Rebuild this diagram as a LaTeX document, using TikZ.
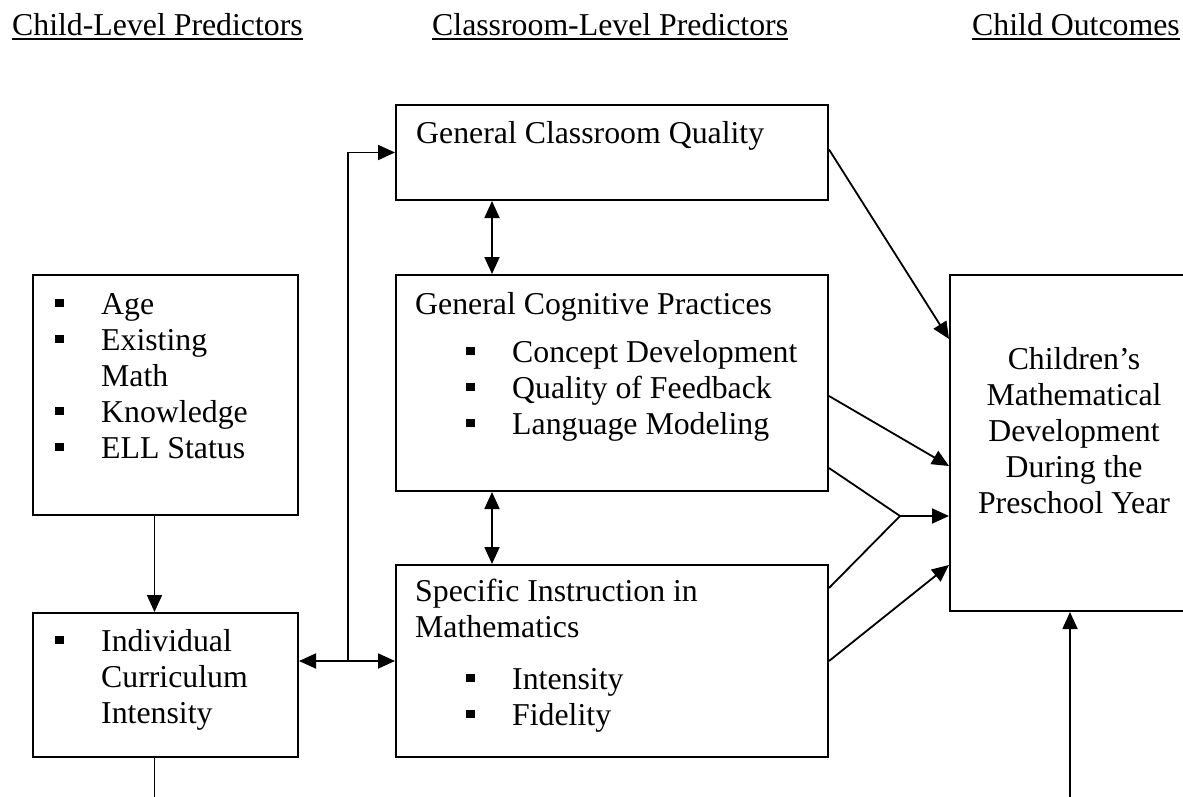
\documentclass[tikz,border=0pt]{standalone}
\usepackage{fontspec}
\setmainfont{Liberation Serif}
\usetikzlibrary{positioning,calc,arrows.meta}
\tikzstyle{box} = [draw, rectangle, line width=2pt, inner sep=0pt]
\tikzstyle{txt} = [inner sep=0pt, anchor=base west]
\tikzstyle{link} = [line width=1.8pt]
\tikzstyle{arr} = [link, -{Triangle[length=17pt,width=15pt]}]
\tikzstyle{darr} = [link, {Triangle[length=17pt,width=15pt]}-{Triangle[length=17pt,width=15pt]}]
\newcommand{\bul}{\makebox[46pt][l]{\rule[7pt]{8.5pt}{8.5pt}}}
\newcommand{\nobul}{\hspace*{46pt}}
\newcommand{\hdr}[1]{\setbox0\hbox{#1}\rlap{\rule[-4pt]{\wd0}{2pt}}\box0}
\newcommand{\lines}[1]{\begin{tabular}[t]{@{}l@{}}#1\end{tabular}}
\newcommand{\clines}[1]{\begin{tabular}[t]{@{}c@{}}#1\end{tabular}}

\begin{document}
\begin{tikzpicture}[x=1pt,y=-1pt,font=\fontsize{31.8}{36}\selectfont]
		\useasboundingbox (0,0) rectangle (1183,797);
		\clip (0,0) rectangle (1183,797);

		% column heads
		\node[txt] (hchild) at (12,36) {\hdr{Child-Level Predictors}};
		\node[txt] (hclass) at (432,36) {\hdr{Classroom-Level Predictors}};
		\node[txt] (hout) at (972,36) {\hdr{Child Outcomes}};

		% classroom boxes
		\node[box, minimum width=432pt, minimum height=95pt, anchor=north west] (gcq) at (395,104) {};
		\node[box, minimum width=432pt, minimum height=216pt, below=73pt of gcq] (gcp) {};
		\node[box, minimum width=432pt, minimum height=192pt, below=72pt of gcp] (sim) {};

		% child boxes
		\node[box, minimum width=265pt, minimum height=240pt, left=96pt of gcp.north west, anchor=north east] (child) {};
		\node[box, minimum width=265pt, minimum height=144pt, below=96pt of child] (curr) {};

		% outcome box
		\node[box, minimum width=248pt, minimum height=336pt, right=120pt of gcp.north east, anchor=north west] (out) {};

		% box texts
		\node[txt] (gcqtext) at ($(gcq.north west)+(21,39)$) {General Classroom Quality};
		\node[txt] (gcptext) at ($(gcp.north west)+(20,40)$) {General Cognitive Practices};
		\node[txt] (gcpitems) at ($(gcp.north west)+(71,88)$) {\lines{\bul Concept Development\\\bul Quality of Feedback\\\bul Language Modeling}};
		\node[txt] (simtext) at ($(sim.north west)+(20,37)$) {\lines{Specific Instruction in\\Mathematics}};
		\node[txt] (simitems) at ($(sim.north west)+(71,125)$) {\lines{\bul Intensity\\\bul Fidelity}};
		\node[txt] (childitems) at ($(child.north west)+(23,40)$) {\lines{\bul Age\\\bul Existing\\\nobul Math\\\bul Knowledge\\\bul ELL Status}};
		\node[txt] (curritems) at ($(curr.north west)+(23,39)$) {\lines{\bul Individual\\\nobul Curriculum\\\nobul Intensity}};
		\node[txt, anchor=base] (outtext) at ($(out.north)+(0,95)$) {\clines{Children’s\\Mathematical\\Development\\During the\\Preschool Year}};

		% child column
		\draw[arr] ([xshift=-11pt]child.south) -- ([xshift=-11pt]curr.north);
		\coordinate[below=60pt of curr.south] (currend);
		\draw[link] ([xshift=-11pt]curr.south) -- ([xshift=-11pt]currend);
		\coordinate[below=200pt of out.south] (outstart);
		\draw[arr] ([xshift=-4pt]outstart) -- ([xshift=-4pt]out.south);

		% join curriculum to classroom
		\coordinate (split) at ($(sim.west)+(-47,0)$);
		\draw[darr] (sim.west) -- (sim.west -| curr.east);
		\draw[arr] (split) |- (gcq.west);
		\draw[darr] ([xshift=-120pt]gcq.south) -- ([xshift=-120pt]gcp.north);
		\draw[darr] ([xshift=-120pt]gcp.south) -- ([xshift=-120pt]sim.north);

		% join classroom to outcome
		\coordinate (join) at ($(out.west)+(-49,73)$);
		\draw[arr] ([yshift=3pt]gcq.east) -- ($(out.west)+(0,-104)$);
		\draw[arr] ($(gcp.east)+(0,13)$) -- ($(out.west)+(0,23)$);
		\draw[link] ($(gcp.east)+(0,85)$) -- (join);
		\draw[link] ($(sim.east)+(0,-73)$) -- (join);
		\draw[arr] (join) -- ($(out.west)+(0,73)$);
		\draw[arr] (sim.east) -- ($(out.west)+(0,122)$);
\end{tikzpicture}
\end{document}
